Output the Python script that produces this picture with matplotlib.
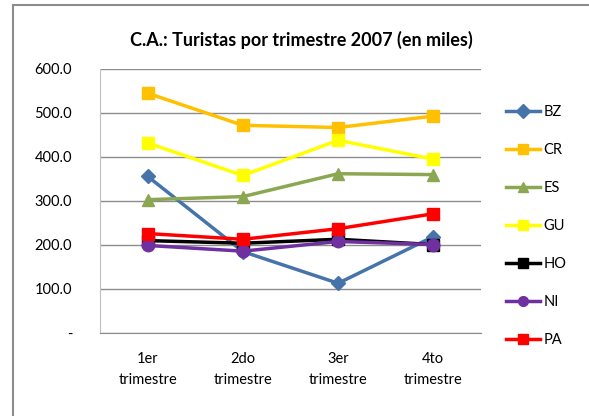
import matplotlib
matplotlib.use("Agg")
import matplotlib.pyplot as plt
from matplotlib.lines import Line2D

plt.rcParams['font.family'] = ['Lato', 'DejaVu Sans']

categories = ["1er\ntrimestre", "2do\ntrimestre", "3er\ntrimestre", "4to\ntrimestre"]
series_names = ["BZ", "CR", "ES", "GU", "HO", "NI", "PA"]
BZ = [356, 185, 113, 219]
CR = [545, 472, 467, 493]
ES = [303, 310, 362, 360]
GU = [432, 358, 438, 395]
HO = [210, 204, 213, 201]
NI = [199, 186, 208, 201]
PA = [226, 213, 237, 271]
yticks = [0, 100, 200, 300, 400, 500, 600]
ytick_labels = ["-", "100.0", "200.0", "300.0", "400.0", "500.0", "600.0"]

data = [BZ, CR, ES, GU, HO, NI, PA]
colors = ["#4674AA", "#FFC000", "#8BA752", "#FFFF00", "#000000", "#7030A0", "#FF0000"]
markers = ["D", "s", "^", "s", "s", "o", "s"]
msizes = [7, 9, 9, 9, 8, 9, 9]

W, H = 589, 416
fig = plt.figure(figsize=(W/100, H/100), dpi=100)
ax = fig.add_axes([100/W, (H-333)/H, 381/W, 264/H])

x = list(range(len(categories)))
handles = []
for name, vals, c, m, ms in zip(series_names, data, colors, markers, msizes):
    ln, = ax.plot(x, vals, color=c, marker=m, markersize=ms, linewidth=2.5,
                  markeredgecolor=c, label=name, clip_on=False)
    handles.append(ln)

ax.set_xlim(-0.5, len(categories) - 0.5)
ax.set_ylim(0, 600)
ax.set_yticks(yticks)
ax.set_yticklabels(ytick_labels)
ax.set_xticks(x)
ax.set_xticklabels(categories, linespacing=1.6)
ax.tick_params(axis='both', length=0, labelsize=10.5, colors='black')
ax.tick_params(axis='y', pad=20)
ax.tick_params(axis='x', pad=14)
for t in ax.get_yticklabels():
    t.set_horizontalalignment('right')
ax.grid(axis='y', color='#8C8C8C', linewidth=1)
ax.set_axisbelow(True)
for s in ['top', 'right']:
    ax.spines[s].set_visible(False)
ax.spines['left'].set_color('#BFBFBF')
ax.spines['bottom'].set_color('#8C8C8C')

fig.text(301/W, 1 - 40/H, "C.A.: Turistas por trimestre 2007 (en miles)",
         ha='center', va='center', fontsize=13, fontweight='bold')

leg = fig.legend(handles=handles, loc='upper left', bbox_to_anchor=(493/W, 1 - 92/H),
                 frameon=False, fontsize=10.5, labelspacing=1.65, handlelength=2.3,
                 handletextpad=0.25)
for lh in leg.legend_handles:
    lh.set_markersize(7)

# outer chart border
fig.add_artist(Line2D([13/W, 13/W], [0, 1 - 5/H], color='#8C8C8C', linewidth=1.5))
fig.add_artist(Line2D([13/W, 1], [1 - 5/H, 1 - 5/H], color='#8C8C8C', linewidth=1.5))

fig.savefig("out.png", dpi=100)
